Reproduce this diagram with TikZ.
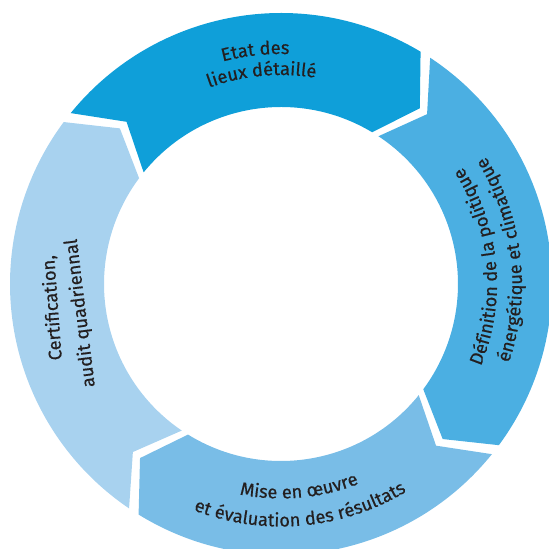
\documentclass[tikz,border=0pt]{standalone}
\usepackage{fontspec}
\setmainfont{Fira Sans}
\newfontfamily\cyclefamily{Fira Sans}[FakeBold=0.5]
\usetikzlibrary{decorations.text}

\definecolor{txtgrey}{RGB}{35,31,32}
\newcommand\cyclefont{\cyclefamily\fontsize{13.7}{16}\selectfont}

\tikzset{every picture/.style={line width=0.75pt},
  segment/.style={draw=none},
  lbl/.style={font=\cyclefont, text=txtgrey, inner sep=0pt},
  arclbl/.style={decorate, decoration={text along path, text={|\cyclefont|#1}, text align=center, text color=txtgrey}}}

\begin{document}
\begin{tikzpicture}[x=0.75pt,y=0.75pt,yscale=1,xscale=1]
%set diagram window, centre of the ring at (0,0)
\useasboundingbox (-281,-265) rectangle (268,284);
\clip (-281,-265) rectangle (268,284);

%Shape: Ring segment [Etat des lieux]
\fill  [segment, fill={rgb, 255:red, 15; green, 159; blue, 217 }] (140.9:271) arc[start angle=140.9, end angle=59, radius=271] -- (51.7:224) -- (59:177) arc[start angle=59, end angle=140.9, radius=177] -- (133.6:224) -- cycle ;
%Shape: Ring segment [Definition]
\fill  [segment, fill={rgb, 255:red, 75; green, 175; blue, 226 }] (56.6:271) arc[start angle=56.6, end angle=-36.5, radius=271] -- (-43.8:224) -- (-36.5:177) arc[start angle=-36.5, end angle=56.6, radius=177] -- (49.3:224) -- cycle ;
%Shape: Ring segment [Mise en oeuvre]
\fill  [segment, fill={rgb, 255:red, 121; green, 189; blue, 231 }] (-38.9:271) arc[start angle=-38.9, end angle=-121.7, radius=271] -- (-129:224) -- (-121.7:177) arc[start angle=-121.7, end angle=-38.9, radius=177] -- (-46.2:224) -- cycle ;
%Shape: Ring segment [Certification]
\fill  [segment, fill={rgb, 255:red, 168; green, 210; blue, 239 }] (235.9:271) arc[start angle=235.9, end angle=143.3, radius=271] -- (136:224) -- (143.3:177) arc[start angle=143.3, end angle=235.9, radius=177] -- (228.6:224) -- cycle ;

%Curved labels
\path [arclbl={Etat des}] (136.3:230) arc[start angle=136.3, end angle=56.3, radius=230] ;
\path [arclbl={lieux détaillé}] (135.3:209) arc[start angle=135.3, end angle=55.3, radius=209] ;
\path [arclbl={Définition de la politique}] (-39.8:216) arc[start angle=-39.8, end angle=50.2, radius=216] ;
\path [arclbl={énergétique et climatique}] (-38.6:241) arc[start angle=-38.6, end angle=51.4, radius=241] ;
\path [arclbl={Mise en œuvre}] (-124.9:214.5) arc[start angle=-124.9, end angle=-44.9, radius=214.5] ;
\path [arclbl={et évaluation des résultats}] (-125:242.5) arc[start angle=-125, end angle=-45, radius=242.5] ;

%Left labels
\node [lbl, rotate=94.2, anchor=base] (cert1) at (-223,-23.4) {Certification,};
\node [lbl, rotate=97, anchor=base] (cert2) at (-195.2,-28.5) {audit quadriennal};

\end{tikzpicture}
\end{document}
